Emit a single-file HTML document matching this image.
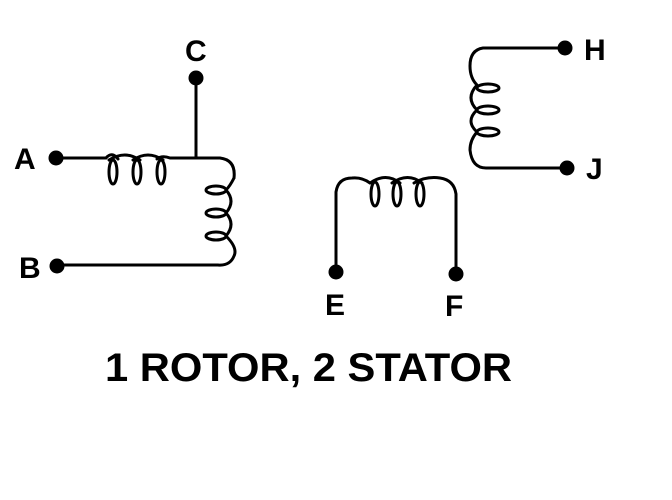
<!DOCTYPE html>
<html><head><style>html,body{margin:0;padding:0;background:#fff}svg{display:block}</style></head>
<body>
<svg width="672" height="500" viewBox="0 0 672 500" xmlns="http://www.w3.org/2000/svg">
<g fill="none" stroke="#000" stroke-width="3" stroke-linecap="round">
<!-- rotor -->
<path d="M56,158 H106 Q112,151 118,159 M109,160 Q125,150 140,160 M133,160 Q148,150 163,160 M157,159 Q162,155 170,158 H220 Q236,160 234,178"/>
<ellipse cx="113" cy="172" rx="4" ry="12"/>
<ellipse cx="137" cy="172" rx="4" ry="12"/>
<ellipse cx="161" cy="172" rx="4" ry="12"/>
<path d="M196,78 V158"/>
<path d="M234,178 Q230,186 226,190 M226,190 Q236,201 226,213 M226,213 Q236,224 226,236 M226,236 Q238,248 234,256 Q230,266 218,265 H57"/>
<ellipse cx="216" cy="190" rx="10" ry="4"/>
<ellipse cx="216" cy="213" rx="10" ry="4"/>
<ellipse cx="216" cy="236" rx="10" ry="4"/>
<!-- stator EF -->
<path d="M336,272 V192 Q338,178 352,178 Q362,177 370,183 M370,183 Q386,172 400,183 M392,183 Q408,172 422,183 M414,183 Q426,176 440,178 Q454,180 456,194 V272"/>
<ellipse cx="375" cy="194" rx="4" ry="12"/>
<ellipse cx="397" cy="194" rx="4" ry="12"/>
<ellipse cx="420" cy="194" rx="4" ry="12"/>
<!-- stator HJ -->
<path d="M565,48 H483 Q470,50 470,66 Q470,78 477,85 M477,85 Q465,98 477,110 M477,110 Q465,121 477,132 M477,132 Q470,140 470,150 Q472,168 486,168 H567"/>
<ellipse cx="488" cy="88" rx="11" ry="4"/>
<ellipse cx="488" cy="110" rx="11" ry="4"/>
<ellipse cx="488" cy="132" rx="11" ry="4"/>
</g>
<g fill="#000">
<circle cx="56" cy="158" r="7.5"/>
<circle cx="196" cy="78" r="7.5"/>
<circle cx="57" cy="266" r="7.5"/>
<circle cx="336" cy="272" r="7.5"/>
<circle cx="456" cy="274" r="7.5"/>
<circle cx="565" cy="48" r="7.5"/>
<circle cx="567" cy="168" r="7.5"/>
</g>
<g font-family="Liberation Sans, Arial, sans-serif" font-weight="bold" font-size="30" fill="#000">
<text x="14" y="169">A</text>
<text x="185" y="61">C</text>
<text x="19" y="278">B</text>
<text x="325" y="315">E</text>
<text x="445" y="316">F</text>
<text x="584" y="60">H</text>
<text x="586" y="179">J</text>
<text x="105" y="381" font-size="40" textLength="407" lengthAdjust="spacingAndGlyphs">1 ROTOR, 2 STATOR</text>
</g>
</svg>
</body></html>
